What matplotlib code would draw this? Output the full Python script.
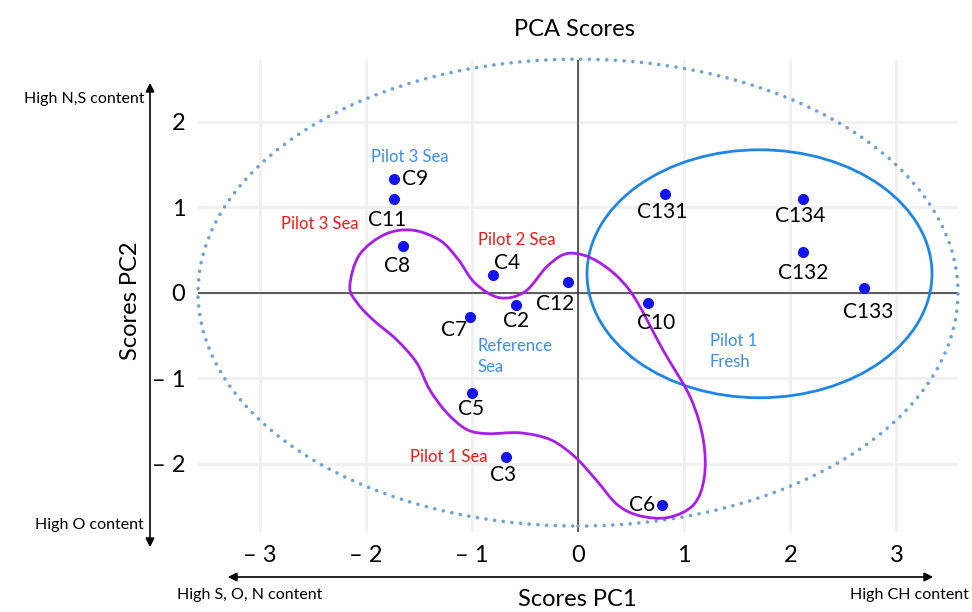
import matplotlib
matplotlib.use('Agg')
import matplotlib.pyplot as plt
from matplotlib.patches import Ellipse, PathPatch, FancyArrowPatch
from matplotlib.path import Path

plt.rcParams['font.family'] = ['Lato', 'DejaVu Sans']

# sample scores (PC1, PC2)
samples = ['C9', 'C11', 'C8', 'C4', 'C12', 'C2', 'C7', 'C5', 'C3', 'C6',
           'C10', 'C131', 'C134', 'C132', 'C133']
pc1 = [-1.73, -1.73, -1.65, -0.80, -0.09, -0.58, -1.02, -1.00, -0.68, 0.79,
       0.66, 0.82, 2.12, 2.12, 2.69]
pc2 = [1.33, 1.09, 0.54, 0.21, 0.12, -0.14, -0.28, -1.18, -1.92, -2.48,
       -0.12, 1.15, 1.09, 0.47, 0.05]
# label offsets in pixels (dx, dy) and alignment
label_off = [(8, 0, 'left'), (-7, -21, 'center'), (-6, -20, 'center'), (14, 12, 'center'),
             (-13, -22, 'center'), (0, -16, 'center'), (-16, -13, 'center'), (-1, -16, 'center'),
             (-3, -18, 'center'), (-7, 0, 'right'), (8, -20, 'center'), (-3, -18, 'center'),
             (-3, -17, 'center'), (0, -21, 'center'), (5, -24, 'center')]

xticks = [-3, -2, -1, 0, 1, 2, 3]
xtick_labels = ['\u2013 3', '\u2013 2', '\u2013 1', '0', '1', '2', '3']
yticks = [-2, -1, 0, 1, 2]
ytick_labels = ['\u2013 2', '\u2013 1', '0', '1', '2']

# group annotations: text, x, y, colour, alignment
groups = [('Pilot 3 Sea', -1.585, 1.58, '#3d8ee8', 'center'),
          ('Pilot 3 Sea', -2.43, 0.80, '#f01818', 'center'),
          ('Pilot 2 Sea', -0.575, 0.61, '#f01818', 'center'),
          ('Reference\nSea', -0.95, -0.75, '#3d8ee8', 'left'),
          ('Pilot 1\nFresh', 1.24, -0.69, '#3d8ee8', 'left'),
          ('Pilot 1 Sea', -1.22, -1.92, '#f01818', 'center')]

# freehand outline around the sea samples (PC1, PC2)
sea_outline = [(-2.15, 0.07), (-2.06, 0.44), (-1.82, 0.68), (-1.56, 0.73), (-1.30, 0.61),
               (-1.13, 0.39), (-0.97, 0.11), (-0.74, -0.06), (-0.50, 0.01), (-0.28, 0.32),
               (-0.08, 0.46), (0.19, 0.36), (0.49, 0.02), (0.80, -0.67), (1.06, -1.23),
               (1.18, -1.72), (1.19, -2.16), (1.09, -2.48), (0.85, -2.63), (0.58, -2.61),
               (0.37, -2.48), (0.17, -2.19), (-0.03, -1.92), (-0.26, -1.72), (-0.55, -1.64),
               (-0.85, -1.65), (-1.05, -1.60), (-1.24, -1.40), (-1.40, -1.13), (-1.52, -0.82),
               (-1.71, -0.55), (-1.93, -0.32), (-2.08, -0.12)]

fig = plt.figure(figsize=(9.72, 6.12), dpi=100)
ax = fig.add_axes([198 / 972, 80 / 612, 760 / 972, 472 / 612])
ax.set_xlim(-3.58, 3.58)
ax.set_ylim(-2.8, 2.72)

ax.set_xticks(xticks, xtick_labels)
ax.set_yticks(yticks, ytick_labels)
ax.tick_params(length=0, labelsize=17, pad=9)
ax.grid(True, color='#f0f0f0', lw=2)
ax.set_axisbelow(True)
for s in ax.spines.values():
    s.set_visible(False)
ax.axhline(0, color='#333333', lw=1.1, zorder=1)
ax.axvline(0, color='#333333', lw=1.1, zorder=1)

# outer dotted ellipse and fresh-water ellipse
outer = Ellipse((0, 0), 7.16, 5.46, fill=False, ec='#6fa0d4', lw=2.6,
                linestyle=(0, (0.01, 2.4)), clip_on=False, zorder=2)
outer.set_capstyle('round')
ax.add_patch(outer)
ax.add_patch(Ellipse((1.71, 0.22), 3.25, 2.90, fill=False, ec='#1f86e6', lw=2, zorder=2))

# smooth closed outline (Catmull-Rom -> cubic Bezier)
n = len(sea_outline)
verts = [sea_outline[0]]
codes = [Path.MOVETO]
for i in range(n):
    p0 = sea_outline[i - 1]
    p1 = sea_outline[i]
    p2 = sea_outline[(i + 1) % n]
    p3 = sea_outline[(i + 2) % n]
    c1 = (p1[0] + (p2[0] - p0[0]) / 6, p1[1] + (p2[1] - p0[1]) / 6)
    c2 = (p2[0] - (p3[0] - p1[0]) / 6, p2[1] - (p3[1] - p1[1]) / 6)
    verts += [c1, c2, p2]
    codes += [Path.CURVE4] * 3
ax.add_patch(PathPatch(Path(verts, codes), fill=False, ec='#a61ee8', lw=2, zorder=3))

ax.plot(pc1, pc2, 'o', color='#1414ee', ms=7, zorder=4)
for name, x, y, (dx, dy, ha) in zip(samples, pc1, pc2, label_off):
    ax.annotate(name, (x, y), xytext=(dx, dy), textcoords='offset pixels',
                ha=ha, va='center', fontsize=15, zorder=5)

for text, x, y, c, ha in groups:
    ax.text(x, y, text, color=c, fontsize=12, ha=ha, va='center', linespacing=1.35)

# outside labels and arrows (figure pixels, y from top)
def fp(x, y):
    return x / 972, 1 - y / 612

fig.text(*fp(574, 30), 'PCA Scores', fontsize=17, ha='center', va='center')
fig.text(*fp(577, 600), 'Scores PC1', fontsize=17, ha='center', va='center')
fig.text(*fp(130, 301), 'Scores PC2', fontsize=17, ha='center', va='center', rotation=90)
fig.text(*fp(144, 99), 'High N,S content', fontsize=11.5, ha='right', va='center')
fig.text(*fp(144, 525), 'High O content', fontsize=11.5, ha='right', va='center')
fig.text(*fp(177, 595), 'High S, O, N content', fontsize=11.5, ha='left', va='center')
fig.text(*fp(969, 595), 'High CH content', fontsize=11.5, ha='right', va='center')

fig.add_artist(FancyArrowPatch(fp(150, 550), fp(150, 80), transform=fig.transFigure,
                               arrowstyle='<|-|>', mutation_scale=13, lw=1.2, color='black'))
fig.add_artist(FancyArrowPatch(fp(225, 577), fp(936, 577), transform=fig.transFigure,
                               arrowstyle='<|-|>', mutation_scale=13, lw=1.2, color='black'))

fig.savefig('out.png', dpi=100)
